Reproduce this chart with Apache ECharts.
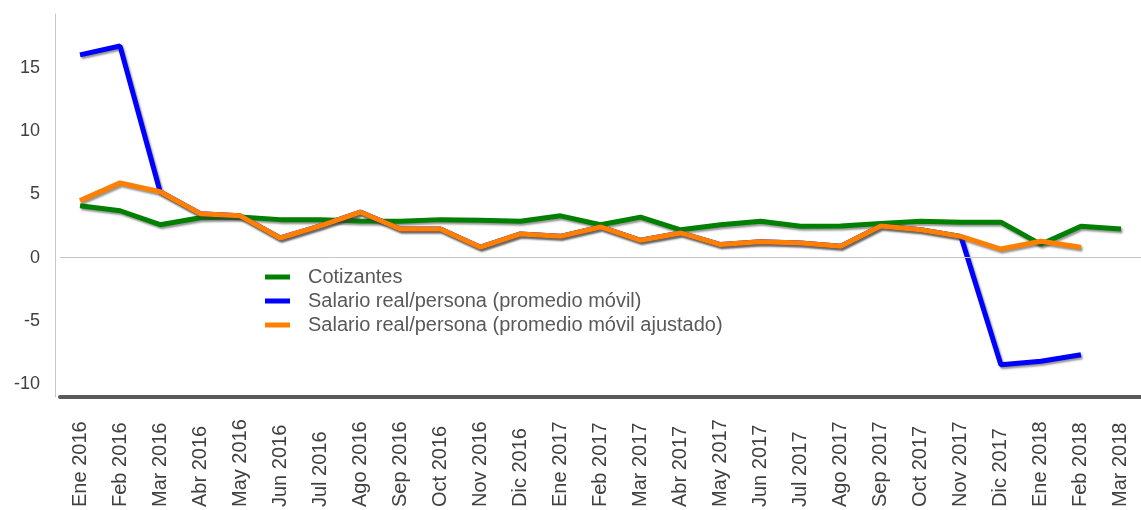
<!DOCTYPE html>
<html>
<head>
<meta charset="utf-8">
<script src="https://cdn.jsdelivr.net/npm/echarts@6/dist/echarts.min.js"></script>
<style>html,body{margin:0;padding:0;background:#fff}#c{width:1141px;height:510px}</style>
</head>
<body>
<div id="c"></div>
<script>
const categories = ["Ene 2016","Feb 2016","Mar 2016","Abr 2016","May 2016","Jun 2016","Jul 2016","Ago 2016","Sep 2016","Oct 2016","Nov 2016","Dic 2016","Ene 2017","Feb 2017","Mar 2017","Abr 2017","May 2017","Jun 2017","Jul 2017","Ago 2017","Sep 2017","Oct 2017","Nov 2017","Dic 2017","Ene 2018","Feb 2018","Mar 2018"];
const cotizantes = [4.1,3.7,2.6,3.15,3.2,3.0,3.0,2.9,2.87,3.0,2.95,2.87,3.3,2.6,3.2,2.2,2.6,2.87,2.47,2.5,2.7,2.87,2.8,2.8,1.05,2.47,2.26];
const salarioMovil = [16.0,16.7,5.2,3.47,3.3,1.55,2.5,3.6,2.26,2.26,0.82,1.87,1.68,2.42,1.37,1.95,1.03,1.25,1.16,0.9,2.5,2.2,1.68,-8.45,-8.18,-7.66,null];
const salarioAjustado = [4.5,5.9,5.2,3.47,3.3,1.55,2.5,3.6,2.26,2.26,0.82,1.87,1.68,2.42,1.37,1.95,1.03,1.25,1.16,0.9,2.5,2.2,1.68,0.68,1.29,0.82,null];
const yTicks = [-10,-5,0,5,10,15];
const seriesNames = ["Cotizantes","Salario real/persona (promedio móvil)","Salario real/persona (promedio móvil ajustado)"];
const colors = ["#008000","#0000ff","#ff8000"];

const font = '"Liberation Sans", Arial, sans-serif';
const chart = echarts.init(document.getElementById('c'), null, {renderer:'canvas'});
const lineStyleFor = c => ({color:c, width:5, shadowColor:'rgba(60,60,60,0.55)', shadowBlur:2, shadowOffsetX:1.5, shadowOffsetY:2});
chart.setOption({
  animation:false,
  color: colors,
  grid:{left:60, top:14, width:1087, height:383, containLabel:false},
  legend:{
    orient:'vertical', left:265, top:266, padding:0, icon:'rect', itemWidth:25, itemHeight:5, itemGap:2,
    textStyle:{fontFamily:font, fontSize:20, color:'#595959', lineHeight:22, padding:[0,0,0,13]},
    data: seriesNames
  },
  xAxis:{
    type:'category', data:categories, boundaryGap:true,
    axisLine:{onZero:false, lineStyle:{color:'#595959', width:4}},
    axisTick:{show:false},
    axisLabel:{interval:0, rotate:90, align:'left', verticalAlign:'middle', margin:110, padding:[0,0,9,0], fontFamily:font, fontSize:20, color:'#404040'}
  },
  yAxis:{
    type:'value', min:-11, max:19.23, offset:5,
    axisLine:{show:true, lineStyle:{color:'#c8c8c8', width:1}},
    axisTick:{show:false},
    splitLine:{show:false},
    axisLabel:{customValues:yTicks, margin:15, fontFamily:font, fontSize:18, color:'#404040'}
  },
  series:[
    {name:seriesNames[0], type:'line', data:cotizantes, symbol:'none', lineStyle:lineStyleFor(colors[0]),
     markLine:{silent:true, symbol:'none', label:{show:false}, lineStyle:{color:'#c4c4c4', width:1, type:'solid', shadowBlur:0, shadowOffsetX:0, shadowOffsetY:0}, data:[{yAxis:0}]}},
    {name:seriesNames[1], type:'line', data:salarioMovil, symbol:'none', lineStyle:lineStyleFor(colors[1])},
    {name:seriesNames[2], type:'line', data:salarioAjustado, symbol:'none', lineStyle:lineStyleFor(colors[2])}
  ]
});
</script>
</body>
</html>
